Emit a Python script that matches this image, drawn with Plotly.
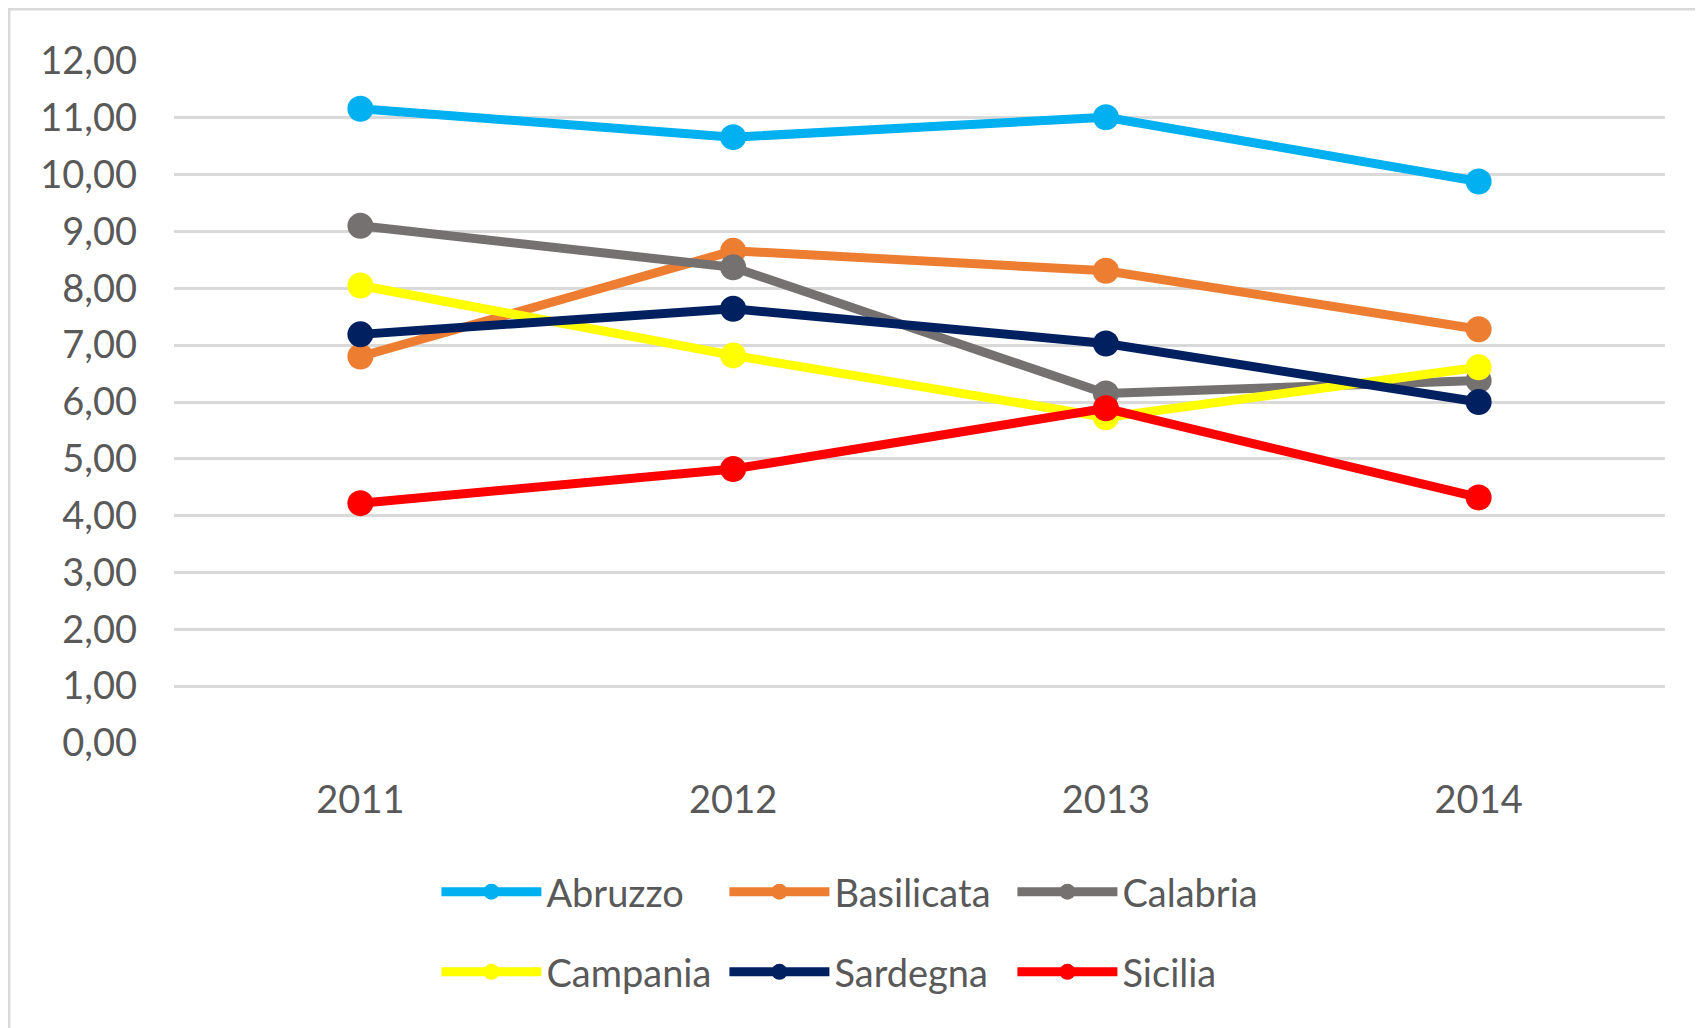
#!/usr/bin/env python3

# Line chart of six Italian regions, 2011-2014
import plotly.graph_objects as go

# Data
years = ["2011", "2012", "2013", "2014"]
abruzzo = [11.16, 10.66, 11.01, 9.88]
basilicata = [6.80, 8.66, 8.31, 7.28]
calabria = [9.10, 8.37, 6.15, 6.38]
campania = [8.05, 6.82, 5.73, 6.61]
sardegna = [7.19, 7.64, 7.03, 6.00]
sicilia = [4.22, 4.82, 5.89, 4.32]

series = [
    ("Abruzzo", abruzzo, "#00B0F0", "legend"),
    ("Basilicata", basilicata, "#ED7D31", "legend"),
    ("Calabria", calabria, "#767171", "legend"),
    ("Campania", campania, "#FFFF00", "legend2"),
    ("Sardegna", sardegna, "#002060", "legend2"),
    ("Sicilia", sicilia, "#FF0000", "legend2"),
]

fig = go.Figure()
for name, values, color, leg in series:
    fig.add_trace(
        go.Scatter(
            x=years,
            y=values,
            name=name,
            mode="lines+markers",
            line=dict(color=color, width=9),
            marker=dict(color=color, size=26),
            legend=leg,
        )
    )

font_color = "#595959"
legend_style = dict(
    orientation="h",
    xanchor="left",
    yanchor="middle",
    x=0.176,
    font=dict(family="Lato", size=38, color=font_color),
    entrywidth=173,
    entrywidthmode="pixels",
    itemwidth=100,
    bgcolor="rgba(0,0,0,0)",
)

# the page has an 8px body margin, so the figure is a little smaller than the window
fig.update_layout(
    width=1695,
    height=1020,
    margin=dict(l=166, r=38, t=53, b=285),
    paper_bgcolor="white",
    plot_bgcolor="white",
    separators=",.",
    font=dict(family="Lato", size=38, color=font_color),
    legend=dict(legend_style, y=-0.2185),
    legend2=dict(legend_style, y=-0.336),
    showlegend=True,
)

fig.update_xaxes(
    range=[-0.5, 3.5],
    showgrid=False,
    showline=False,
    zeroline=False,
    ticklabelstandoff=31,
    tickfont=dict(size=38, color=font_color),
)
fig.update_yaxes(
    range=[0, 12],
    dtick=1,
    tickformat=".2f",
    showgrid=True,
    gridcolor="#D9D9D9",
    gridwidth=3,
    zeroline=False,
    showline=False,
    ticklabelstandoff=36,
    tickfont=dict(size=38, color=font_color),
)

# Outer chart border
fig.add_shape(
    type="rect",
    xref="paper",
    yref="paper",
    x0=-0.1107,
    x1=1.05,
    y0=-0.5,
    y1=1.0762,
    line=dict(color="#D9D9D9", width=3),
    layer="below",
)

fig.write_html("out.html")
